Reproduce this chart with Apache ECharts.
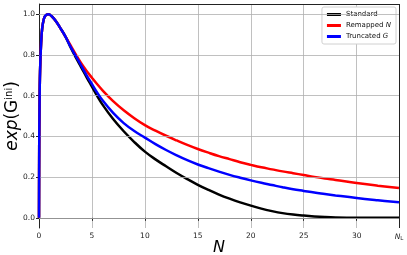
<!DOCTYPE html>
<html>
<head>
<meta charset="utf-8">
<script src="https://cdn.jsdelivr.net/npm/echarts@6/dist/echarts.min.js"></script>
<style>
  html, body { margin: 0; padding: 0; background: #fff; }
  #chart { width: 407px; height: 255px; }
</style>
</head>
<body>
<div id="chart"></div>
<script>
// N values (x) shared by all curves
var nHead = [0, 0.02, 0.05, 0.1, 0.2, 0.3, 0.45, 0.6, 0.88, 1.2, 1.6, 2, 2.5];
var headVals = [0, 0.35, 0.55, 0.72, 0.86, 0.93, 0.975, 0.993, 1.0, 0.99, 0.965, 0.933, 0.89];

var nTail = [3, 3.5, 4, 4.5, 5, 5.5, 6, 7, 8, 9, 10, 11, 12, 13, 14, 15, 16, 17, 18, 19, 20,
             21, 22, 23, 24, 25, 26, 27, 28, 30, 32, 34];
var standardTail = [0.835, 0.785, 0.738, 0.69, 0.644, 0.598, 0.556, 0.485, 0.425, 0.372, 0.325, 0.287, 0.253, 0.22, 0.19, 0.162,
                    0.137, 0.114, 0.094, 0.076, 0.06, 0.045, 0.033, 0.023, 0.016, 0.011, 0.007, 0.004, 0.002, 0.0003, 0, 0];
var remappedTail = [0.846, 0.8, 0.758, 0.721, 0.688, 0.656, 0.626, 0.573, 0.528, 0.489, 0.455, 0.428, 0.403, 0.38, 0.358, 0.338,
                    0.32, 0.303, 0.288, 0.273, 0.26, 0.248, 0.238, 0.228, 0.219, 0.21, 0.201, 0.193, 0.186, 0.171, 0.158, 0.146];
var truncatedTail = [0.838, 0.792, 0.746, 0.70, 0.657, 0.615, 0.577, 0.515, 0.465, 0.426, 0.394, 0.362, 0.333, 0.307, 0.283, 0.262,
                     0.244, 0.227, 0.211, 0.197, 0.184, 0.172, 0.161, 0.15, 0.14, 0.132, 0.124, 0.117, 0.11, 0.097, 0.086, 0.076];

var yTicks = [0, 0.2, 0.4, 0.6, 0.8, 1.0];
var nL = 34;

function pairs(tail) {
    var out = [];
    for (var i = 0; i < nHead.length; i++) out.push([nHead[i], headVals[i]]);
    for (var j = 0; j < nTail.length; j++) out.push([nTail[j], tail[j]]);
    return out;
}

// horizontal grid lines + top/right frame
var frameLines = yTicks.map(function (v) {
    return [{ coord: [0, v], lineStyle: { color: '#b0b0b0', width: 0.8 } },
            { coord: [nL, v] }];
});
frameLines.push([{ coord: [0, 1.05] }, { coord: [nL, 1.05] }]);
frameLines.push([{ coord: [nL, -0.05] }, { coord: [nL, 1.05] }]);

var font = 'DejaVu Sans';

var option = {
    animation: false,
    textStyle: { fontFamily: font },
    grid: { left: 39, right: 8, top: 4, bottom: 27, outerBoundsMode: 'none', containLabel: false },
    legend: {
        right: 11, top: 7,
        orient: 'vertical',
        icon: 'rect',
        itemWidth: 14, itemHeight: 3,
        itemGap: 4,
        padding: [4, 5, 4, 5],
        backgroundColor: '#fff',
        borderColor: '#d0d0d0', borderWidth: 1, borderRadius: 2,
        textStyle: {
            fontSize: 7, color: '#111', fontFamily: font,
            rich: { i: { fontStyle: 'italic', fontSize: 7, color: '#111' } }
        },
        formatter: function (name) {
            if (name === 'Remapped N') return 'Remapped {i|N}';
            if (name === 'Truncated G') return 'Truncated {i|G}';
            return name;
        },
        data: ['Standard', 'Remapped N', 'Truncated G']
    },
    xAxis: {
        type: 'value', min: 0, max: nL, interval: 5,
        name: 'N', nameLocation: 'middle', nameGap: 12, nameMoveOverlap: false,
        nameTextStyle: { fontSize: 16, fontStyle: 'italic', color: '#000', verticalAlign: 'top' },
        axisLine: { lineStyle: { color: '#222', width: 1 } },
        axisTick: { show: true, inside: false, length: 3, lineStyle: { color: '#222' } },
        axisLabel: {
            fontSize: 7.5, color: '#222', margin: 4,
            formatter: function (v) {
                if (Math.abs(v - nL) < 1e-6) return '{i|N}{s|L}';
                return String(v);
            },
            rich: {
                i: { fontStyle: 'italic', fontSize: 7.5, color: '#222' },
                s: { fontSize: 5.5, color: '#222', verticalAlign: 'bottom', padding: [4, 0, 0, 0] }
            }
        },
        splitLine: { show: true, lineStyle: { color: '#b0b0b0', width: 0.8 } }
    },
    yAxis: {
        type: 'value', min: -0.05, max: 1.05,
        name: '{e|exp}{n|(G}{s|ini}{n|)}', nameLocation: 'middle', nameGap: 17, nameRotate: 90,
        nameMoveOverlap: false,
        nameTextStyle: {
            color: '#000',
            rich: {
                e: { fontStyle: 'italic', fontSize: 17, color: '#000' },
                n: { fontSize: 17, color: '#000' },
                s: { fontSize: 10, color: '#000', verticalAlign: 'top', padding: [0, 0, 8, 0] }
            }
        },
        axisLine: { show: true, lineStyle: { color: '#222', width: 1 } },
        axisTick: { show: true, length: 3, customValues: yTicks, lineStyle: { color: '#222' } },
        axisLabel: {
            fontSize: 7.5, color: '#222', margin: 4, customValues: yTicks,
            formatter: function (v) { return v.toFixed(1); }
        },
        splitLine: { show: false }
    },
    series: [
        {
            name: 'Standard', type: 'line', data: pairs(standardTail),
            showSymbol: false, smooth: 0.4,
            lineStyle: { color: '#000', width: 2.5 }, itemStyle: { color: '#000' }, z: 3
        },
        {
            name: 'Remapped N', type: 'line', data: pairs(remappedTail),
            showSymbol: false, smooth: 0.4,
            lineStyle: { color: '#ff0000', width: 2.5 }, itemStyle: { color: '#ff0000' }, z: 4
        },
        {
            name: 'Truncated G', type: 'line', data: pairs(truncatedTail),
            showSymbol: false, smooth: 0.4,
            lineStyle: { color: '#0000ff', width: 2.5 }, itemStyle: { color: '#0000ff' }, z: 5
        },
        {
            type: 'line', data: [], silent: true, z: 1,
            markLine: {
                symbol: 'none', silent: true, label: { show: false },
                lineStyle: { color: '#222', width: 1, type: 'solid' },
                data: frameLines
            }
        }
    ]
};

var chart = echarts.init(document.getElementById('chart'));
chart.setOption(option);
</script>
</body>
</html>
